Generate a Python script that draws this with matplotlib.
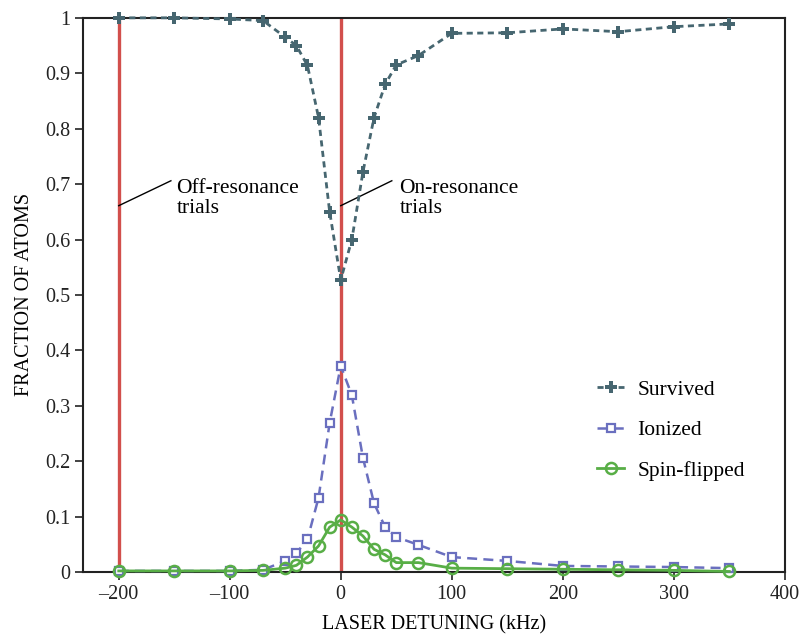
import matplotlib.pyplot as plt

plt.rcParams['font.family'] = ['Liberation Serif', 'DejaVu Serif']

# detuning (kHz)
detuning = [-200, -150, -100, -70, -50, -40, -30, -20, -10, 0, 10, 20, 30,
            40, 50, 70, 100, 150, 200, 250, 300, 350]

survived = [1.0, 1.0, 0.998, 0.995, 0.965, 0.95, 0.914, 0.82, 0.65, 0.527,
            0.60, 0.722, 0.82, 0.88, 0.915, 0.932, 0.972, 0.973, 0.98, 0.975,
            0.984, 0.989]
ionized = [0.002, 0.002, 0.002, 0.004, 0.02, 0.034, 0.059, 0.134, 0.269,
           0.372, 0.319, 0.206, 0.124, 0.081, 0.063, 0.049, 0.027, 0.02,
           0.011, 0.01, 0.009, 0.007]
spin_flipped = [0.002, 0.002, 0.002, 0.003, 0.007, 0.012, 0.027, 0.047,
                0.081, 0.094, 0.081, 0.065, 0.041, 0.031, 0.017, 0.017,
                0.007, 0.006, 0.005, 0.004, 0.003, 0.001]

trial_lines = [-200, 0]

xticks = [-200, -100, 0, 100, 200, 300, 400]
xticklabels = ['\u2013200', '\u2013100', '0', '100', '200', '300', '400']
yticks = [0, 0.1, 0.2, 0.3, 0.4, 0.5, 0.6, 0.7, 0.8, 0.9, 1]
yticklabels = ['0', '0.1', '0.2', '0.3', '0.4', '0.5', '0.6', '0.7', '0.8',
               '0.9', '1']

fig = plt.figure(figsize=(8, 6.37), dpi=100)
ax = fig.add_axes([0.104, 0.102, 0.877, 0.870])

for xv in trial_lines:
    ax.plot([xv, xv], [0, 1], color='#d24f4c', lw=2.4, zorder=1)

ax.plot(detuning, survived, color='#466670', lw=2, ls=(0, (2.2, 1.6)),
        marker='P', ms=9, mew=0, label='Survived', zorder=3, clip_on=False)
ax.plot(detuning, ionized, color='#6a6fbf', lw=1.8, ls=(0, (4, 2.5)),
        marker='s', ms=6, mfc='white', mew=1.6, label='Ionized', zorder=3,
        clip_on=False)
ax.plot(detuning, spin_flipped, color='#58ae46', lw=2, ls='-',
        marker='o', ms=8, mfc='none', mew=1.8, label='Spin-flipped', zorder=4,
        clip_on=False)

# annotations
ax.plot([-200, -153], [0.661, 0.706], color='black', lw=1)
ax.text(-148, 0.674, 'Off-resonance\ntrials', fontsize=15.5, va='center',
        ha='left', linespacing=1.1)
ax.plot([0, 46], [0.661, 0.706], color='black', lw=1)
ax.text(53, 0.674, 'On-resonance\ntrials', fontsize=15.5, va='center',
        ha='left', linespacing=1.1)

ax.set_xlim(-232, 400)
ax.set_ylim(0, 1)
ax.set_xticks(xticks)
ax.set_xticklabels(xticklabels)
ax.set_yticks(yticks)
ax.set_yticklabels(yticklabels)
ax.tick_params(axis='both', direction='out', length=6, width=1.2,
               labelsize=14.5, colors='#222222')
for sp in ax.spines.values():
    sp.set_linewidth(1.5)
    sp.set_color('#222222')

ax.set_xlabel('LASER DETUNING (kHz)', fontsize=14.5, labelpad=8)
ax.set_ylabel('FRACTION OF ATOMS', fontsize=14.5, labelpad=8)

ax.legend(loc='upper left', bbox_to_anchor=(0.733, 0.347), frameon=False,
          fontsize=15.5, handlelength=1.25, labelspacing=0.95,
          handletextpad=0.6, borderaxespad=0, borderpad=0)

fig.savefig('out.png', dpi=100)
